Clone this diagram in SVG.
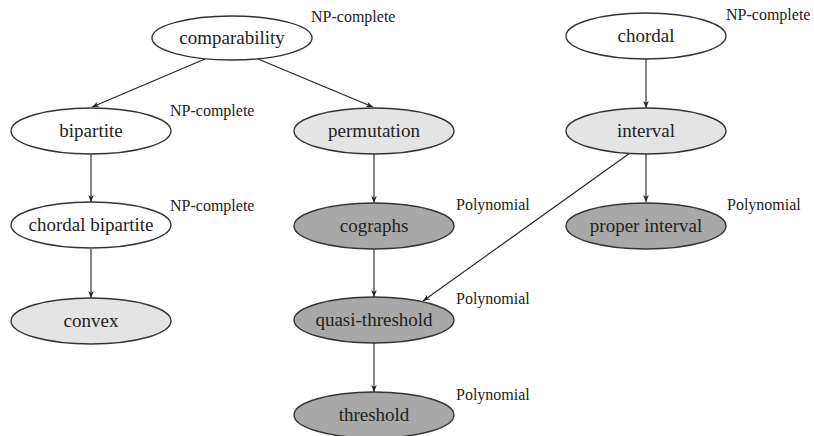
<svg xmlns="http://www.w3.org/2000/svg" width="814" height="436" viewBox="0 0 814 436">
<defs>
<marker id="ah" viewBox="0 0 10 10" refX="10" refY="5" markerWidth="7" markerHeight="7" orient="auto" markerUnits="userSpaceOnUse">
<path d="M0,1 L10,5 L0,9 L3,5 Z" fill="#222"/>
</marker>
</defs>
<style>
.n ellipse{stroke:#333;stroke-width:1.4}
.w{fill:#fff}.l{fill:#e4e4e4}.d{fill:#a8a8a8}
.e line{stroke:#222;stroke-width:1.1;marker-end:url(#ah)}
</style>
<rect width="814" height="436" fill="#fff"/>
<g class="e" id="edges">
<line x1="205" y1="59" x2="92" y2="107"/>
<line x1="258" y1="59" x2="373" y2="107"/>
<line x1="91" y1="154" x2="91" y2="202"/>
<line x1="91" y1="249" x2="91" y2="298"/>
<line x1="374" y1="154" x2="374" y2="203"/>
<line x1="374" y1="249" x2="374" y2="297"/>
<line x1="374" y1="343" x2="374" y2="392"/>
<line x1="646" y1="59" x2="646" y2="108"/>
<line x1="646" y1="154" x2="646" y2="202"/>
<line x1="630" y1="153" x2="423" y2="301"/>
</g>
<g class="n" id="comparability"><ellipse class="w" cx="232" cy="38" rx="80" ry="22"/><text x="232" y="44" font-family="Liberation Serif" font-size="19" fill="#222" text-anchor="middle">comparability</text><text x="311" y="22" font-family="Liberation Serif" font-size="16" fill="#222">NP-complete</text></g>
<g class="n" id="bipartite"><ellipse class="w" cx="91" cy="131" rx="80" ry="23"/><text x="91" y="137" font-family="Liberation Serif" font-size="19" fill="#222" text-anchor="middle">bipartite</text><text x="170" y="116" font-family="Liberation Serif" font-size="16" fill="#222">NP-complete</text></g>
<g class="n" id="chordal-bipartite"><ellipse class="w" cx="91" cy="225" rx="80" ry="23"/><text x="91" y="231" font-family="Liberation Serif" font-size="19" fill="#222" text-anchor="middle">chordal bipartite</text><text x="170" y="211" font-family="Liberation Serif" font-size="16" fill="#222">NP-complete</text></g>
<g class="n" id="convex"><ellipse class="l" cx="91" cy="321" rx="80" ry="23"/><text x="91" y="327" font-family="Liberation Serif" font-size="19" fill="#222" text-anchor="middle">convex</text></g>
<g class="n" id="permutation"><ellipse class="l" cx="374" cy="131" rx="80" ry="23"/><text x="374" y="137" font-family="Liberation Serif" font-size="19" fill="#222" text-anchor="middle">permutation</text></g>
<g class="n" id="cographs"><ellipse class="d" cx="374" cy="226" rx="80" ry="23"/><text x="374" y="232" font-family="Liberation Serif" font-size="19" fill="#222" text-anchor="middle">cographs</text><text x="456" y="210" font-family="Liberation Serif" font-size="16" fill="#222">Polynomial</text></g>
<g class="n" id="quasi-threshold"><ellipse class="d" cx="374" cy="320" rx="80" ry="23"/><text x="374" y="326" font-family="Liberation Serif" font-size="19" fill="#222" text-anchor="middle">quasi-threshold</text><text x="456" y="304" font-family="Liberation Serif" font-size="16" fill="#222">Polynomial</text></g>
<g class="n" id="threshold"><ellipse class="d" cx="374" cy="415" rx="80" ry="23"/><text x="374" y="421" font-family="Liberation Serif" font-size="19" fill="#222" text-anchor="middle">threshold</text><text x="456" y="400" font-family="Liberation Serif" font-size="16" fill="#222">Polynomial</text></g>
<g class="n" id="chordal"><ellipse class="w" cx="646" cy="36" rx="80" ry="23"/><text x="646" y="42" font-family="Liberation Serif" font-size="19" fill="#222" text-anchor="middle">chordal</text><text x="726" y="20" font-family="Liberation Serif" font-size="16" fill="#222">NP-complete</text></g>
<g class="n" id="interval"><ellipse class="l" cx="646" cy="131" rx="80" ry="23"/><text x="646" y="137" font-family="Liberation Serif" font-size="19" fill="#222" text-anchor="middle">interval</text></g>
<g class="n" id="proper-interval"><ellipse class="d" cx="646" cy="226" rx="80" ry="23"/><text x="646" y="232" font-family="Liberation Serif" font-size="19" fill="#222" text-anchor="middle">proper interval</text><text x="727" y="210" font-family="Liberation Serif" font-size="16" fill="#222">Polynomial</text></g>
</svg>
